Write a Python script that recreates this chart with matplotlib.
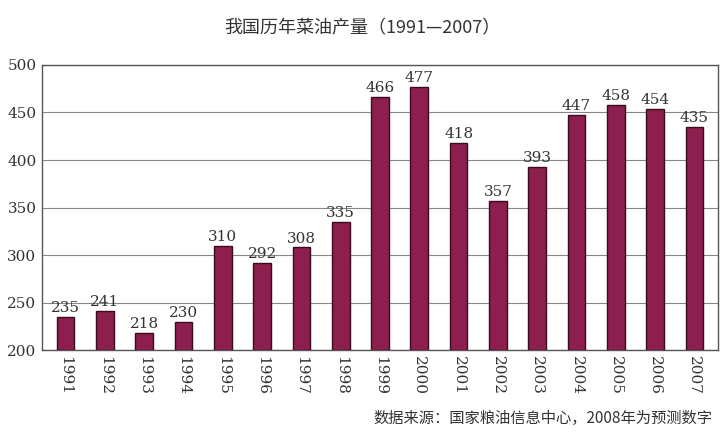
import matplotlib
matplotlib.use("Agg")
import matplotlib.pyplot as plt

years = ["1991","1992","1993","1994","1995","1996","1997","1998","1999","2000","2001","2002","2003","2004","2005","2006","2007"]
values = [235,241,218,230,310,292,308,335,466,477,418,357,393,447,458,454,435]
yticks = [200,250,300,350,400,450,500]

fig = plt.figure(figsize=(7.25,4.4), dpi=100)
ax = fig.add_axes([42/725, 1-350/440, 676/725, 285/440])
x = range(len(years))
ax.bar(x, [v-200 for v in values], bottom=200, width=0.45, color="#8c1f4e", edgecolor="#3a0a1e", linewidth=1, zorder=3)
for i, v in zip(x, values):
    ax.text(i, v+2, str(v), ha="center", va="bottom", fontsize=11, family="DejaVu Serif", color="#333333")
ax.set_xlim(-0.6, len(years)-0.4)
ax.set_ylim(200, 500)
ax.set_yticks(yticks)
ax.set_yticklabels([str(t) for t in yticks], family="DejaVu Serif", fontsize=11, color="#333333")
ax.set_xticks(list(x))
ax.set_xticklabels(years, rotation=270, family="DejaVu Serif", fontsize=11, color="#333333")
ax.tick_params(length=0, pad=4)
ax.grid(axis="y", color="#888888", linewidth=0.8, zorder=0)
for s in ax.spines.values():
    s.set_color("#555555"); s.set_linewidth(1)
fig.text(0.5, 1-28/440, "我国历年菜油产量（1991—2007）", ha="center", va="center", fontsize=13, family="Noto Sans CJK SC", color="#333333")
fig.text(712/725, 1-418/440, "数据来源：国家粮油信息中心，2008年为预测数字", ha="right", va="center", fontsize=11, family="Noto Sans CJK SC", color="#333333")
fig.savefig("out.png", dpi=100)
